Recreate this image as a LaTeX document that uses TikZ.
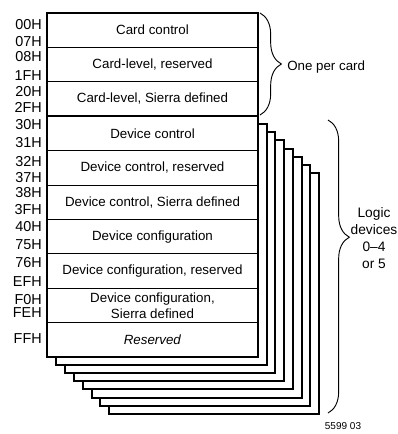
\documentclass[tikz,border=0pt]{standalone}
\usepackage{fontspec}
\setmainfont{Liberation Sans}
\usetikzlibrary{decorations.pathreplacing}
\begin{document}
\begin{tikzpicture}[x=0.75pt,y=-0.75pt,
        rowtext/.style={font=\fontsize{10}{12}\selectfont,align=center},
        addr/.style={font=\fontsize{10.8}{12}\selectfont,anchor=east,inner sep=0pt},
        outline/.style={line width=1.5pt},
        divider/.style={line width=0.7pt},
        bracket/.style={decorate,decoration={brace,amplitude=16pt},line width=0.7pt}]
        \useasboundingbox (0,0) rectangle (398,434);
        \foreach \k in {7,6,...,1}
            \draw [outline,fill=white] ({47+8.9*\k},{116.2+8.1*\k}) rectangle ({258+8.7*\k},{357+8.1*\k});
        \draw [outline,fill=white] (47,13) rectangle (258,357);
        \foreach \y in {47.4,81.8,150.6,185,219.4,253.8,288.2,322.6}
            \draw [divider] (47,\y) -- (258,\y);
        \draw [outline] (47,116.2) -- (258,116.2);
        \foreach \n/\y/\t in {1/30.2/Card control,2/64.6/{Card-level, reserved},3/99/{Card-level, Sierra defined},
                4/133.4/Device control,5/167.8/{Device control, reserved},6/202.2/{Device control, Sierra defined},
                7/236.6/Device configuration,8/271/{Device configuration, reserved},
                9/305.4/{Device configuration,\\Sierra defined},10/339.8/\textit{Reserved}}
            \node [rowtext] (row\n) at (152.5,\y) {\t};
        \foreach \t/\y in {00H/25,07H/42,08H/57,1FH/76,20H/92,2FH/107,30H/125,31H/143,32H/162,37H/178,
                38H/193,3FH/210,40H/227,75H/245,76H/263,EFH/282,F0H/300,FEH/313,FFH/339}
            \node [addr] (addr\t) at (42,\y) {\t};
        \coordinate (cardtop) at (260,13);
        \coordinate (cardbot) at (260,115);
        \coordinate (devtop) at (328,120);
        \coordinate (devbot) at (328,413);
        \draw [bracket] (cardtop) -- (cardbot);
        \draw [bracket,decoration={aspect=0.4}] (devtop) -- (devbot);
        \node [rowtext,anchor=west,inner sep=0pt] (percard) at (287,67) {One per card};
        \node [rowtext,font=\fontsize{10.3}{12.75}\selectfont] (logic) at (374,238) {Logic\\devices\\0--4\\or 5};
        \node [font=\fontsize{7.5}{8}\selectfont] (figno) at (343,426) {5599 03};
    \end{tikzpicture}
\end{document}
